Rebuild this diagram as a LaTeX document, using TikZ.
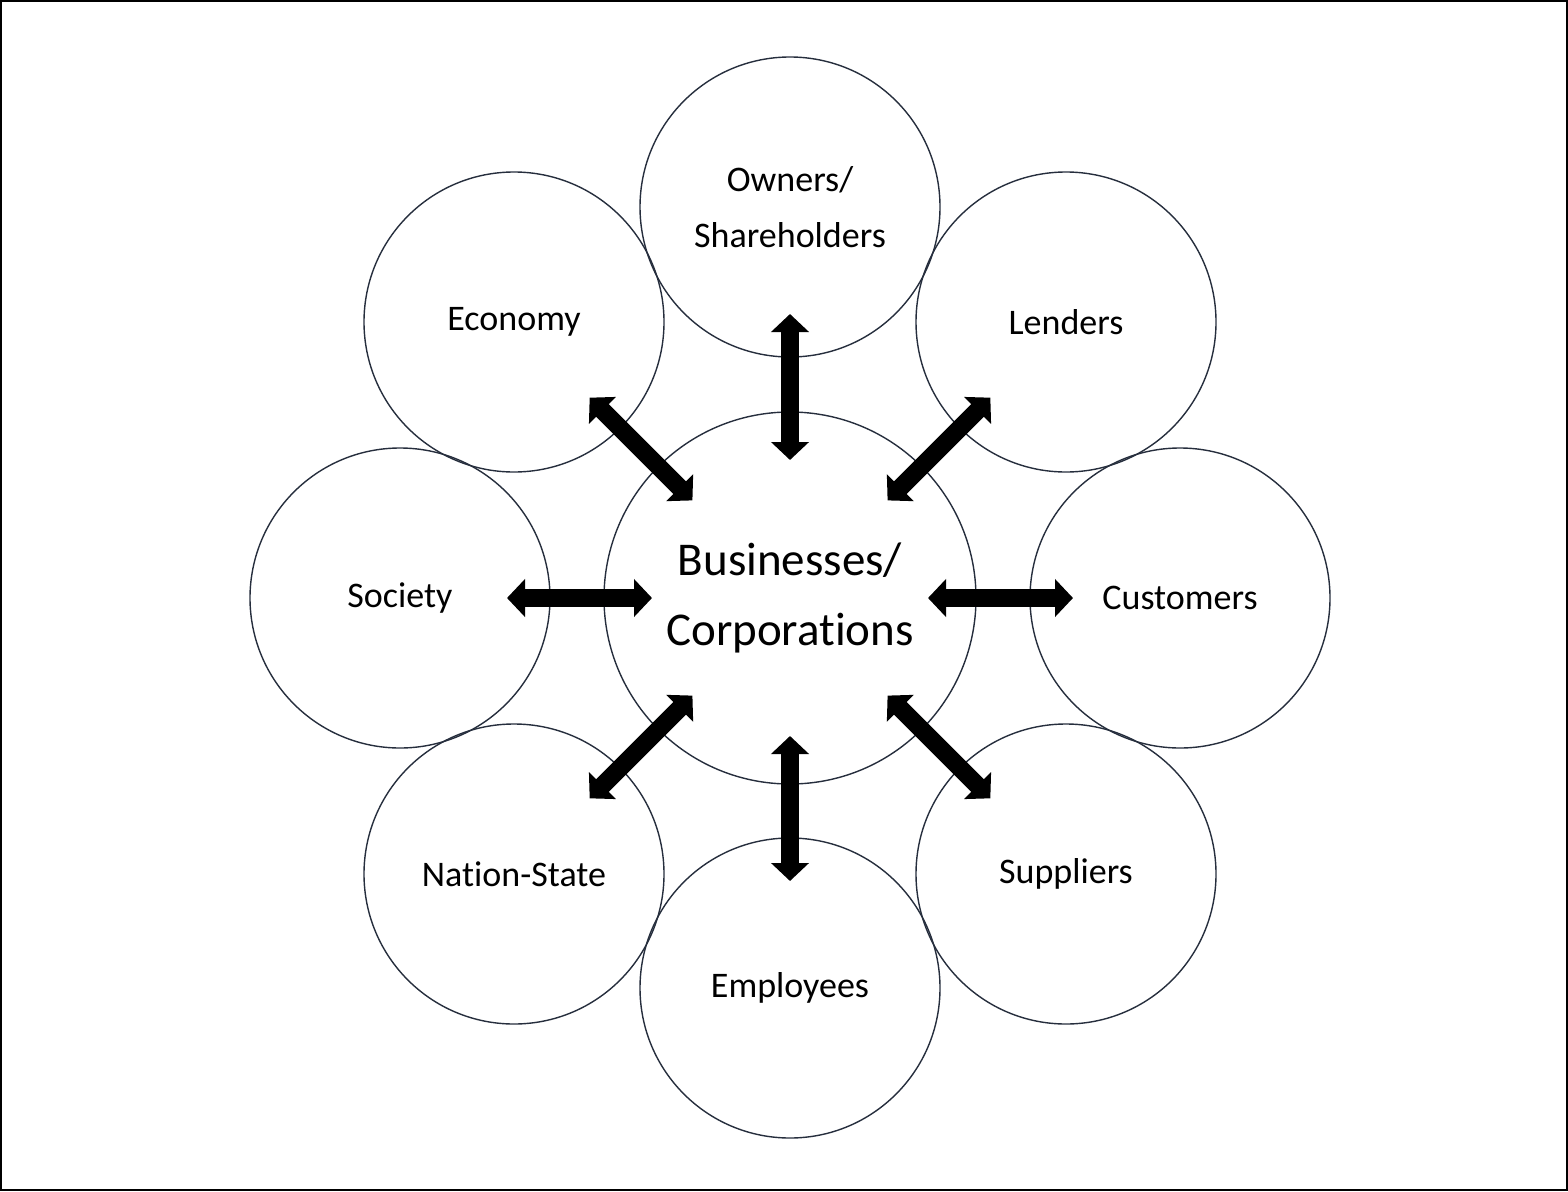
\documentclass[tikz,border=0pt]{standalone}
\usepackage{fontspec}
\setmainfont[Ligatures=NoCommon,RawFeature={-liga;-clig}]{Carlito}
\usetikzlibrary{arrows.meta}
\definecolor{circ}{HTML}{262E3D}
\begin{document}
\begin{tikzpicture}[x=1pt,y=-1pt,
  outer/.style={circle, draw=circ, line width=1.4pt, minimum size=300pt, inner sep=0pt, align=center, font=\fontsize{36}{56}\selectfont},
  hub/.style={circle, draw=circ, line width=1.4pt, minimum size=372pt, inner sep=0pt, align=center, font=\fontsize{47}{70}\selectfont},
  link/.style={line width=18pt, {Triangle[width=37pt,length=18pt]}-{Triangle[width=37pt,length=18pt]}, shorten <=107pt, shorten >=138pt}]
\useasboundingbox (0,0) rectangle (1568,1191);
\draw[line width=2pt] (1,1) rectangle (1567,1190);
\node[hub] (hub) at (790,598) {Businesses/\\Corporations};
\node[outer] (own) at (790,207) {Owners/\\Shareholders};
\node[outer] (len) at (1066,322) {Lenders};
\node[outer] (cus) at (1180,598) {Customers};
\node[outer] (sup) at (1066,874) {Suppliers};
\node[outer] (emp) at (790,988) {Employees};
\node[outer] (nat) at (514,874) {Nation-State};
\node[outer] (soc) at (400,598) {Society};
\node[outer] (eco) at (514,322) {Economy};
\foreach \n in {own,len,cus,sup,emp,nat,soc,eco}
  \draw[link] (\n.center) -- (hub.center);
\end{tikzpicture}
\end{document}
